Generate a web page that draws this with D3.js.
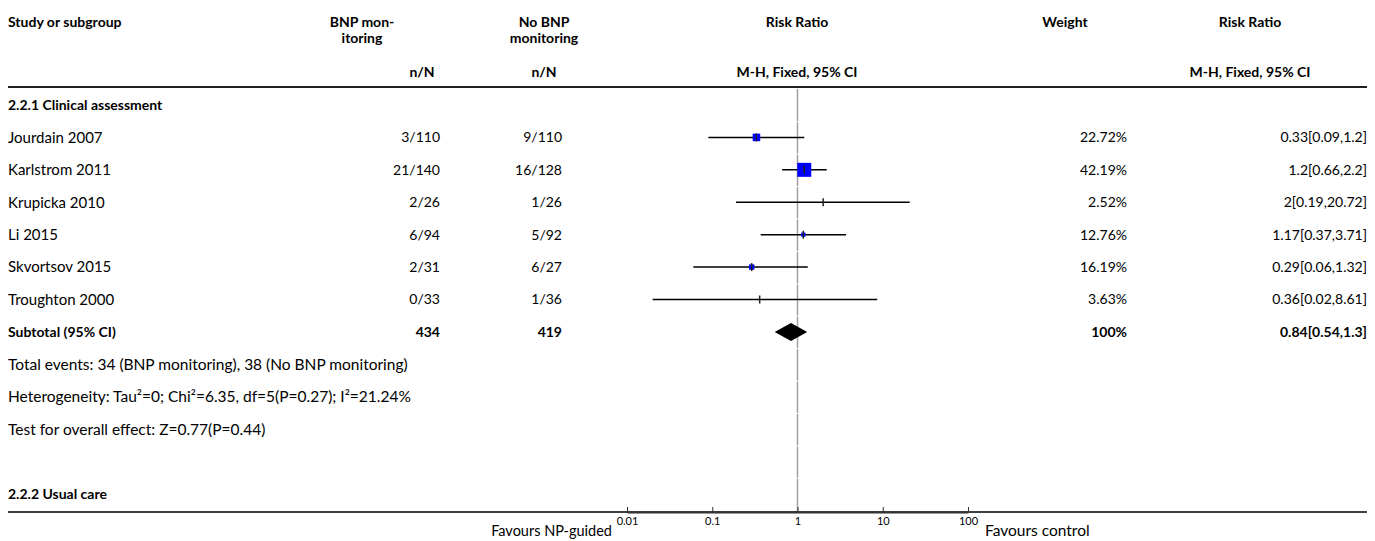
<!DOCTYPE html>
<html>
<head>
<meta charset="utf-8">
<script src="https://cdn.jsdelivr.net/npm/d3@7"></script>
<style>
  body { margin: 0; background: #fff; }
  text { font-family: Lato, "Noto Sans", sans-serif; fill: #000; }
</style>
</head>
<body>
<div id="viz"></div>
<script>
// study rows of subgroup 2.2.1
const studies = ['Jourdain 2007', 'Karlstrom 2011', 'Krupicka 2010', 'Li 2015', 'Skvortsov 2015', 'Troughton 2000'];
const bnpCounts = ['3/110', '21/140', '2/26', '6/94', '2/31', '0/33'];
const noBnpCounts = ['9/110', '16/128', '1/26', '5/92', '6/27', '1/36'];
const weights = [22.72, 42.19, 2.52, 12.76, 16.19, 3.63];
const ratios = [0.33, 1.2, 2, 1.17, 0.29, 0.36];
const lowers = [0.09, 0.66, 0.19, 0.37, 0.06, 0.02];
const uppers = [1.2, 2.2, 20.72, 3.71, 1.32, 8.61];

// subtotal: totals, weight, ratio [lower, upper]
const subtotalN = [434, 419];
const subtotalWeight = 100;
const subtotalRR = [0.84, 0.54, 1.3];

const notes = [
  'Total events: 34 (BNP monitoring), 38 (No BNP monitoring)',
  'Heterogeneity: Tau\u00b2=0; Chi\u00b2=6.35, df=5(P=0.27); I\u00b2=21.24%',
  'Test for overall effect: Z=0.77(P=0.44)',
];
const groups = ['2.2.1 Clinical assessment', '2.2.2 Usual care'];
const axisTicks = [0.01, 0.1, 1, 10, 100];

const width = 1375;
const height = 541;
const fs = 14;     // bold headings and numbers
const fsName = 15; // study names and notes

const svg = d3.select('#viz')
  .append('svg')
  .attr('width', width)
  .attr('height', height);

// row positions: 0 = group heading, 1..6 studies, 7 subtotal, 8..10 notes, 12 second group
const y = d3.scaleLinear().domain([0, 12]).range([105, 494]);
const x = d3.scaleLog().domain([0.01, 100]).range([627, 968]);
const box = d3.scaleLinear().domain([0, d3.max(weights)]).range([0, 14]);

const col = { study: 8, bnp: 440, noBnp: 562, weight: 1127, rr: 1367 };

function txt(s, xx, yy, anchor, bold, size) {
  return svg.append('text')
    .attr('x', xx)
    .attr('y', yy)
    .attr('dy', '0.35em')
    .attr('text-anchor', anchor || 'start')
    .style('font-size', (size || fs) + 'px')
    .style('font-weight', bold ? 'bold' : 'normal')
    .text(s);
}

// header
txt('Study or subgroup', col.study, 22, 'start', true);
txt('BNP mon-', 362, 22, 'middle', true);
txt('itoring', 362, 38, 'middle', true);
txt('n/N', 422, 72, 'middle', true);
txt('No BNP', 544, 22, 'middle', true);
txt('monitoring', 544, 38, 'middle', true);
txt('n/N', 544, 72, 'middle', true);
txt('Risk Ratio', 797, 22, 'middle', true);
txt('M-H, Fixed, 95% CI', 797, 72, 'middle', true);
txt('Weight', 1065, 22, 'middle', true);
txt('Risk Ratio', 1250, 22, 'middle', true);
txt('M-H, Fixed, 95% CI', 1250, 72, 'middle', true);

svg.append('line')
  .attr('x1', 8).attr('x2', 1367)
  .attr('y1', 87).attr('y2', 87)
  .attr('stroke', '#222').attr('stroke-width', 2);

// reference line at 1, broken slightly between rows
const rowIdx = d3.range(0, 13);
svg.append('g').selectAll('line')
  .data(rowIdx)
  .join('line')
  .attr('x1', x(1)).attr('x2', x(1))
  .attr('y1', d => (d === 0 ? 89 : y(d - 0.5) + 1))
  .attr('y2', d => (d === 12 ? 511 : y(d + 0.5)))
  .attr('stroke', '#a0a0a0')
  .attr('stroke-width', 1.5);

// group headings
txt(groups[0], col.study, y(0), 'start', true);
txt(groups[1], col.study, y(12), 'start', true);

// study rows
const rows = svg.append('g').selectAll('g')
  .data(studies)
  .join('g');

rows.append('text')
  .attr('x', col.study).attr('y', (d, i) => y(i + 1)).attr('dy', '0.35em')
  .style('font-size', fsName + 'px')
  .text(d => d);
rows.append('text')
  .attr('x', col.bnp).attr('y', (d, i) => y(i + 1)).attr('dy', '0.35em')
  .attr('text-anchor', 'end').style('font-size', fs + 'px')
  .text((d, i) => bnpCounts[i]);
rows.append('text')
  .attr('x', col.noBnp).attr('y', (d, i) => y(i + 1)).attr('dy', '0.35em')
  .attr('text-anchor', 'end').style('font-size', fs + 'px')
  .text((d, i) => noBnpCounts[i]);
rows.append('text')
  .attr('x', col.weight).attr('y', (d, i) => y(i + 1)).attr('dy', '0.35em')
  .attr('text-anchor', 'end').style('font-size', fs + 'px')
  .text((d, i) => weights[i] + '%');
rows.append('text')
  .attr('x', col.rr).attr('y', (d, i) => y(i + 1)).attr('dy', '0.35em')
  .attr('text-anchor', 'end').style('font-size', fs + 'px')
  .text((d, i) => `${ratios[i]}[${lowers[i]},${uppers[i]}]`);

// CI lines
rows.append('line')
  .attr('x1', (d, i) => x(lowers[i])).attr('x2', (d, i) => x(uppers[i]))
  .attr('y1', (d, i) => y(i + 1)).attr('y2', (d, i) => y(i + 1))
  .attr('stroke', '#000').attr('stroke-width', 1.5);
// weight boxes
rows.append('rect')
  .attr('x', (d, i) => x(ratios[i]) - box(weights[i]) / 2)
  .attr('y', (d, i) => y(i + 1) - box(weights[i]) / 2)
  .attr('width', (d, i) => box(weights[i]))
  .attr('height', (d, i) => box(weights[i]))
  .attr('fill', '#0000ff');
// point tick
rows.append('line')
  .attr('x1', (d, i) => x(ratios[i])).attr('x2', (d, i) => x(ratios[i]))
  .attr('y1', (d, i) => y(i + 1) - 4).attr('y2', (d, i) => y(i + 1) + 4)
  .attr('stroke', '#222').attr('stroke-width', 1.5);

// subtotal
txt('Subtotal (95% CI)', col.study, y(7), 'start', true);
txt(subtotalN[0], col.bnp, y(7), 'end', true);
txt(subtotalN[1], col.noBnp, y(7), 'end', true);
txt(subtotalWeight + '%', col.weight, y(7), 'end', true);
txt(`${subtotalRR[0]}[${subtotalRR[1]},${subtotalRR[2]}]`, col.rr, y(7), 'end', true);

const yc = y(7);
svg.append('path')
  .attr('d', `M${x(subtotalRR[1])},${yc} L${x(subtotalRR[0])},${yc - 9} L${x(subtotalRR[2])},${yc} L${x(subtotalRR[0])},${yc + 9} Z`)
  .attr('fill', '#000');

// notes
notes.forEach((n, i) => txt(n, col.study, y(8 + i), 'start', false, 15.5));

// bottom rule and axis
svg.append('line')
  .attr('x1', 8).attr('x2', 1367)
  .attr('y1', 512).attr('y2', 512)
  .attr('stroke', '#000').attr('stroke-width', 1.5);

const axis = svg.append('g')
  .attr('transform', 'translate(0,512)')
  .call(d3.axisBottom(x)
    .tickValues(axisTicks)
    .tickFormat(d => String(d))
    .tickSizeInner(-5)
    .tickSizeOuter(0)
    .tickPadding(5));
axis.select('.domain').attr('stroke', '#333').attr('stroke-width', 2);
axis.selectAll('.tick line').attr('stroke', '#333');
axis.selectAll('.tick text')
  .style('font-family', 'Lato, "Noto Sans", sans-serif')
  .style('font-size', '11px')
  .attr('fill', '#000');

txt('Favours NP-guided', 612, 531, 'end', false, 14.5);
txt('Favours control', 985, 531, 'start', false, 15.5);
</script>
</body>
</html>
